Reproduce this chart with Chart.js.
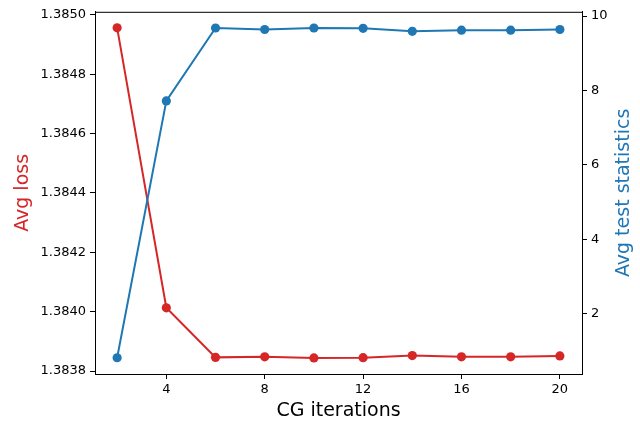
<!DOCTYPE html>
<html>
<head>
<meta charset="utf-8">
<script src="https://cdn.jsdelivr.net/npm/chart.js@4"></script>
<style>
  body { margin: 0; background: #fff; }
  canvas { display: block; }
</style>
</head>
<body>
<canvas id="myChart" width="640" height="425"></canvas>
<script>
const iterations = [2, 4, 6, 8, 10, 12, 14, 16, 18, 20];
const avgLoss = [1.384956, 1.384013, 1.383846, 1.383848, 1.383844, 1.383845, 1.383852, 1.383848, 1.383848, 1.383851];
const avgTestStat = [0.82, 7.72, 9.68, 9.64, 9.68, 9.67, 9.59, 9.62, 9.62, 9.64];

const xTicks = [4, 8, 12, 16, 20];
const lossTicks = [1.3838, 1.3840, 1.3842, 1.3844, 1.3846, 1.3848, 1.3850];
const statTicks = [2, 4, 6, 8, 10];

const RED = '#d62728';
const BLUE = '#1f77b4';
const FONT = 'DejaVu Sans';

// frame on all four sides + right axis title reading bottom-to-top
const framePlugin = {
    id: 'frame',
    afterDraw(chart) {
        const {ctx, chartArea: a} = chart;
        ctx.save();
        ctx.strokeStyle = '#000';
        ctx.lineWidth = 1;
        ctx.strokeRect(a.left + 0.5, a.top + 0.5, a.right - a.left, a.bottom - a.top);
        ctx.translate(624, (a.top + a.bottom) / 2);
        ctx.rotate(-Math.PI / 2);
        ctx.fillStyle = BLUE;
        ctx.font = '19px "' + FONT + '"';
        ctx.textAlign = 'center';
        ctx.textBaseline = 'middle';
        ctx.fillText('Avg test statistics', 0, 0);
        ctx.restore();
    }
};

const tickFont = {family: FONT, size: 13};

const config = {
    type: 'line',
    data: {
        datasets: [{
            label: 'Avg test statistics',
            data: iterations.map((x, i) => ({x: x, y: avgTestStat[i]})),
            yAxisID: 'y2',
            borderColor: BLUE,
            backgroundColor: BLUE,
            borderWidth: 2,
            pointRadius: 4.6,
            pointBorderWidth: 0,
            tension: 0
        }, {
            label: 'Avg loss',
            data: iterations.map((x, i) => ({x: x, y: avgLoss[i]})),
            yAxisID: 'y',
            borderColor: RED,
            backgroundColor: RED,
            borderWidth: 2,
            pointRadius: 4.6,
            pointBorderWidth: 0,
            tension: 0
        }]
    },
    options: {
        responsive: false,
        animation: false,
        devicePixelRatio: 1,
        layout: {padding: {top: 11, left: 0, right: 0, bottom: 0}},
        plugins: {legend: {display: false}, tooltip: {enabled: false}},
        scales: {
            x: {
                type: 'linear',
                min: 1.1,
                max: 20.9,
                afterBuildTicks: s => { s.ticks = xTicks.map(v => ({value: v})); },
                afterFit: s => { s.height = 51; },
                grid: {drawOnChartArea: false, tickLength: 5, color: '#000'},
                border: {color: '#000'},
                ticks: {color: '#000', font: tickFont, padding: 3, maxRotation: 0},
                title: {display: true, text: 'CG iterations', color: '#000',
                        font: {family: FONT, size: 19}, padding: {top: 0, bottom: 3}}
            },
            y: {
                position: 'left',
                min: 1.38379,
                max: 1.38501,
                afterBuildTicks: s => { s.ticks = lossTicks.map(v => ({value: v})); },
                afterFit: s => { s.width = 95; },
                grid: {drawOnChartArea: false, tickLength: 5, color: '#000'},
                border: {color: '#000'},
                ticks: {color: '#000', font: tickFont, padding: 4,
                        callback: v => v.toFixed(4)},
                title: {display: true, text: 'Avg loss', color: RED,
                        font: {family: FONT, size: 19}, padding: {top: 12, bottom: 0}}
            },
            y2: {
                position: 'right',
                min: 0.383,
                max: 10.115,
                afterBuildTicks: s => { s.ticks = statTicks.map(v => ({value: v})); },
                afterFit: s => { s.width = 58; },
                grid: {drawOnChartArea: false, tickLength: 5, color: '#000'},
                border: {color: '#000'},
                ticks: {color: '#000', font: tickFont, padding: 4}
            }
        }
    },
    plugins: [framePlugin]
};

const myChart = new Chart(document.getElementById('myChart'), config);
</script>
</body>
</html>
